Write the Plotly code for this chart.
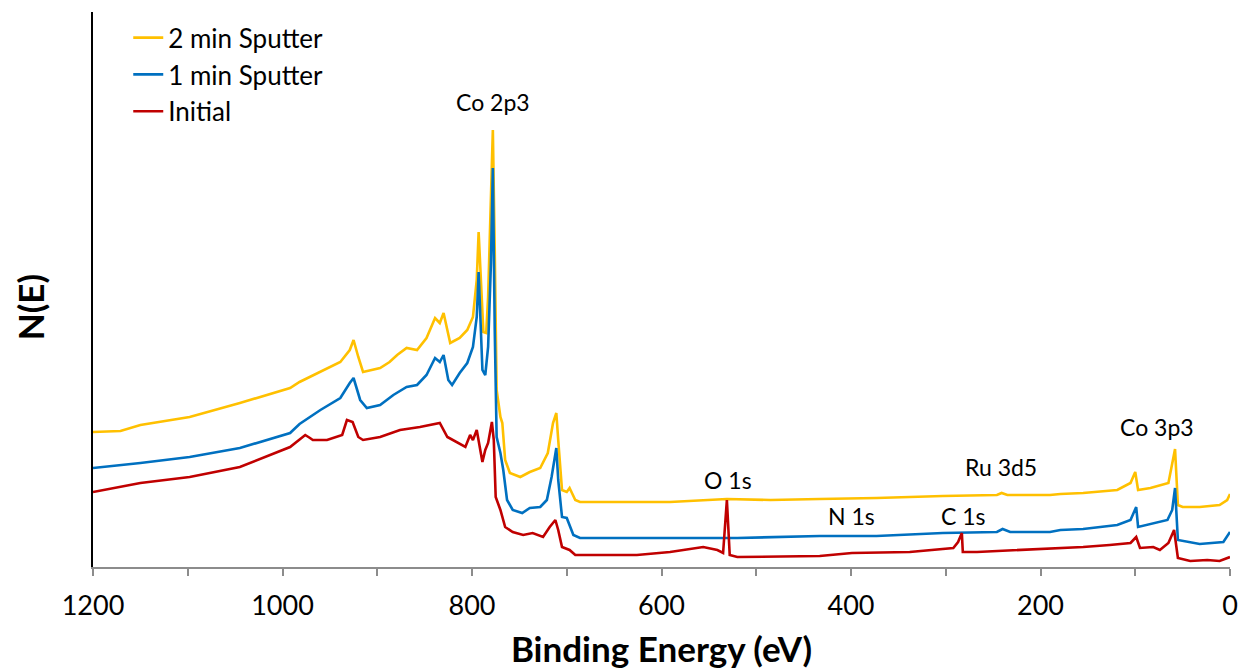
import plotly.graph_objects as go

# XPS survey spectra (binding energy in eV, N(E) in arbitrary units)
be_2min = [1200, 1171, 1150, 1098, 1045, 992, 982, 960, 939, 929, 925, 920, 915, 897, 887,
           879, 869, 858, 848, 839, 834, 830, 823, 813, 805, 799, 795, 793, 790.5, 788, 785,
           783, 779, 778, 776, 774, 770, 768, 765, 760, 749, 739, 728, 720, 714.5, 711, 709,
           705, 700, 697, 691, 686, 662, 591, 531, 485, 433, 373, 303, 246, 241, 235, 190,
           179, 155, 119, 105, 100, 97, 84, 65, 58, 55, 50, 32, 11, 3, 0]
ne_2min = [135, 136, 142, 150, 164, 179, 185, 195, 205, 217, 227, 210, 195, 199, 205,
           212, 219, 217, 229, 249, 244, 254, 224, 229, 237, 250, 287, 335, 287, 235, 234,
           270, 404, 437, 317, 177, 150, 144, 107, 94, 90, 95, 99, 114, 144, 154, 127,
           77, 75, 79, 67, 65, 65, 65, 68, 67, 68, 69, 71, 72, 74, 72, 72,
           73, 74, 77, 84, 95, 77, 79, 84, 118, 62, 60, 60, 62, 67, 73]

be_1min = [1200, 1150, 1098, 1045, 992, 982, 960, 939, 929, 925, 918, 911, 897, 883, 869,
           858, 848, 839, 834, 830, 825, 821, 813, 805, 799, 795, 793, 789, 786, 783, 780,
           778, 776, 774, 770, 767, 763, 757, 747, 739, 728, 721, 716, 711, 709, 705, 700,
           693, 686, 662, 591, 520, 433, 373, 303, 246, 240, 232, 190, 179, 155, 119, 105,
           99, 97, 66, 61, 58, 55, 32, 7, 0]
ne_1min = [99, 104, 110, 119, 134, 143, 157, 169, 184, 189, 167, 159, 162, 172, 180,
           182, 192, 209, 205, 212, 187, 182, 194, 204, 220, 250, 295, 197, 192, 220, 304,
           399, 237, 130, 114, 97, 67, 57, 54, 59, 60, 67, 90, 119, 87, 50, 49,
           32, 29, 29, 29, 29, 31, 31, 34, 35, 38, 35, 35, 37, 38, 42, 47,
           60, 40, 47, 57, 79, 27, 23, 25, 35]

be_init = [1200, 1150, 1098, 1045, 992, 976, 971, 968, 953, 937, 932, 926, 920, 915, 897,
           876, 855, 834, 826, 816, 807, 802, 799, 795, 789, 786, 783, 779, 777, 775, 770,
           765, 757, 746, 736, 725, 718, 712, 709, 705, 697, 691, 662, 626, 591, 556, 541,
           535, 531, 528, 520, 433, 399, 338, 292, 287, 283, 282, 267, 190, 179, 155, 127,
           105, 99, 95, 81, 74, 65, 59, 55, 42, 24, 11, 0]
ne_init = [75, 84, 90, 100, 120, 132, 129, 127, 127, 132, 147, 145, 130, 127, 130,
           137, 140, 144, 130, 125, 120, 132, 127, 137, 105, 117, 124, 145, 127, 70, 57,
           40, 35, 32, 34, 30, 40, 47, 37, 20, 17, 12, 12, 12, 15, 20, 17,
           14, 67, 12, 10, 11, 14, 15, 19, 25, 34, 15, 15, 18, 19, 20, 22,
           24, 30, 19, 20, 17, 24, 37, 9, 6, 7, 6, 10]

series = [
    ("2 min Sputter", be_2min, ne_2min, "#FFC000"),
    ("1 min Sputter", be_1min, ne_1min, "#0070C0"),
    ("Initial", be_init, ne_init, "#C00000"),
]

# Peak labels: (text, binding energy, N(E) position)
peak_labels = [
    ("Co 2p3", 778, 465),
    ("O 1s", 530, 87),
    ("N 1s", 399, 51),
    ("C 1s", 281, 51),
    ("Ru 3d5", 242, 100),
    ("Co 3p3", 77, 140),
]

FONT = "Lato, 'Open Sans', sans-serif"

fig = go.Figure()
for i, (name, xs, ys, color) in enumerate(series):
    fig.add_trace(go.Scatter(
        x=xs, y=ys, name=name, mode="lines",
        line=dict(color=color, width=2.6),
        legendgroup=f"g{i}",
    ))

for text, x, y in peak_labels:
    fig.add_annotation(x=x, y=y, text=text, showarrow=False,
                       font=dict(family=FONT, size=23, color="black"))

# vertical axis title
fig.add_annotation(xref="paper", yref="paper", x=0, y=0.468, xshift=-63,
                   xanchor="center", yanchor="middle",
                   text="<b>N(E)</b>", textangle=-90, showarrow=False,
                   font=dict(family=FONT, size=35, color="black"))

fig.update_layout(
    width=1242, height=669,
    margin=dict(l=93, r=12, t=12, b=102),
    paper_bgcolor="white", plot_bgcolor="white",
    font=dict(family=FONT, color="black"),
    showlegend=True,
    legend=dict(
        x=0.031, y=0.996, xanchor="left", yanchor="top",
        font=dict(family=FONT, size=26, color="black"),
        bgcolor="rgba(0,0,0,0)", tracegroupgap=0,
    ),
    xaxis=dict(
        range=[1200, 0], dtick=200, tick0=0, automargin=False,
        showgrid=False, zeroline=False,
        showline=True, linecolor="#8C8C8C", linewidth=2,
        ticks="outside", ticklen=7, tickcolor="#8C8C8C", tickwidth=2,
        minor=dict(dtick=100, ticks="outside", ticklen=7, tickcolor="#8C8C8C", tickwidth=2),
        tickfont=dict(family=FONT, size=27, color="black"),
        ticklabelstandoff=7,
        title=dict(text="<b>Binding Energy (eV)</b>", standoff=18,
                   font=dict(family=FONT, size=35, color="black")),
    ),
    yaxis=dict(
        range=[0, 555], showgrid=False, zeroline=False, automargin=False,
        showline=True, linecolor="black", linewidth=2,
        ticks="", showticklabels=False,
    ),
)

fig.write_html("out.html")
